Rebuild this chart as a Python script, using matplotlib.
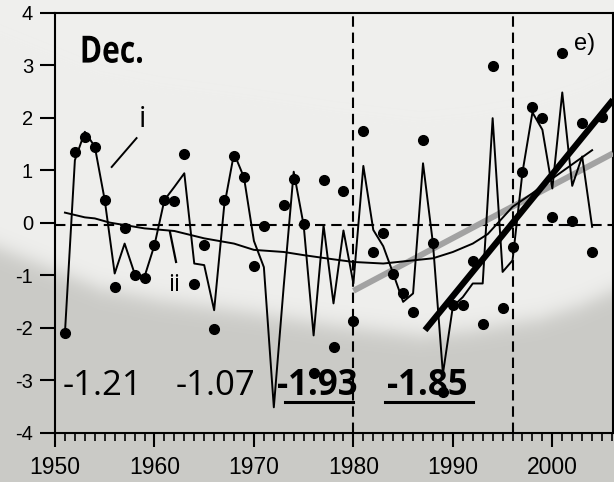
import numpy as np
import matplotlib
matplotlib.use("Agg")
import matplotlib.pyplot as plt
from matplotlib.ticker import MultipleLocator, FixedLocator
from matplotlib.patheffects import AbstractPathEffect
from matplotlib.transforms import Affine2D

plt.rcParams['axes.unicode_minus'] = False

# December anomalies (dots)
dot_years = [1951, 1952, 1953, 1954, 1955, 1956, 1957, 1958, 1959, 1960,
             1961, 1962, 1963, 1964, 1965, 1966, 1967, 1968, 1969, 1970,
             1971, 1973, 1974, 1975, 1976, 1977, 1978, 1979, 1980,
             1981, 1982, 1983, 1984, 1985, 1986, 1987, 1988, 1989, 1990,
             1991, 1992, 1993, 1994, 1995, 1996, 1997, 1998, 1999, 2000,
             2001, 2002, 2003, 2004, 2005]
dot_vals = [-2.11, 1.35, 1.63, 1.45, 0.43, -1.22, -0.11, -0.99, -1.05, -0.42,
            0.43, 0.41, 1.31, -1.17, -0.42, -2.02, 0.43, 1.27, 0.86, -0.82,
            -0.07, 0.33, 0.83, -0.03, -2.87, 0.82, -2.38, 0.61, -1.88,
            1.75, -0.56, -0.19, -0.97, -1.34, -1.70, 1.57, -0.39, -3.22, -1.57,
            -1.57, -0.73, -1.94, 2.99, -1.63, -0.46, 0.96, 2.20, 1.99, 0.11,
            3.23, 0.03, 1.89, -0.56, 2.02]

# series i (thin line)
line_years = list(range(1951, 2005))
line_vals = [-2.10, 1.19, 1.73, 1.45, 0.43, -0.97, -0.40, -0.97, -1.03, -0.43,
             0.43, 0.68, 0.94, -0.78, -0.81, -1.67, 0.30, 1.32, 0.86, -0.35,
             -0.85, -3.52, -1.20, 0.97, -0.05, -2.15, -0.05, -1.54, -0.15, -1.16,
             1.08, -0.14, -0.45, -0.97, -1.51, -1.35, 1.13, -0.40, -2.88, -1.60,
             -1.42, -1.16, -1.16, 1.99, -0.94, -0.72, 0.96, 2.10, 1.77, 0.65,
             2.48, 0.70, 1.26, -0.08]

# series ii (smoothed)
smooth_years = [1951, 1953, 1954, 1955.5, 1959, 1962, 1965, 1968, 1970, 1973,
                1975, 1978, 1980, 1983, 1988, 1990, 1992, 1993.5, 1996, 1998,
                2000, 2004]
smooth_vals = [0.19, 0.10, 0.08, 0.00, -0.11, -0.16, -0.30, -0.40, -0.52, -0.56,
               -0.62, -0.70, -0.75, -0.78, -0.68, -0.56, -0.40, -0.22, 0.30, 0.56,
               0.84, 1.38]

# linear trends
trend80_years = [1980, 2006.1]
trend80_vals = [-1.30, 1.32]
trend87_years = [1987.2, 2006.1]
trend87_vals = [-2.05, 2.34]

split_years = [1980, 1996]
baseline = -0.05

period_labels = ['-1.21', '-1.07', '-1.93', '-1.85']
period_x = [1950.8, 1962.1, 1972.3, 1983.4]
period_bold = [False, False, True, True]

x_ticks = [1950, 1960, 1970, 1980, 1990, 2000]
y_ticks = [-4, -3, -2, -1, 0, 1, 2, 3, 4]


class Condense(AbstractPathEffect):
    """Squeeze glyphs horizontally about the text origin."""

    def __init__(self, sx):
        super().__init__()
        self.sx = sx

    def draw_path(self, renderer, gc, tpath, affine, rgbFace=None):
        renderer.draw_path(gc, tpath, Affine2D().scale(self.sx, 1) + affine, rgbFace)


W, H = 614, 482
fig = plt.figure(figsize=(W / 100, H / 100), dpi=100)

# paper-like backdrop: light upper part, grey lower part
bg = fig.add_axes([0, 0, 1, 1], zorder=-10)
bg.set_axis_off()
cx = [0, 50, 100, 160, 250, 335, 420, 470, 540, 580, 614]
cy = [248, 268, 288, 300, 312, 325, 335, 330, 318, 305, 290]
xx = np.arange(W)
edge = np.interp(xx, cx, cy)
yy = np.arange(H)[:, None]
t = 1 / (1 + np.exp(-(yy - edge[None, :]) / 6.0))
light = np.array([239, 239, 237]) / 255
grey = np.array([202, 202, 198]) / 255
img = light[None, None, :] * (1 - t[..., None]) + grey[None, None, :] * t[..., None]
bg.imshow(img, extent=[0, 1, 0, 1], aspect='auto', transform=bg.transAxes)

l, r = 55 / W, 613 / W
b, tp = (H - 432.5) / H, (H - 12.7) / H
ax = fig.add_axes([l, b, r - l, tp - b])
ax.patch.set_alpha(0)

ax.set_xlim(1950, 2006.1)
ax.set_ylim(-4, 4)

dash = (0, (5, 2.8))
ax.axhline(baseline, color='black', lw=1.5, ls=dash, zorder=2)
for xv in split_years:
    ax.axvline(xv, color='black', lw=1.5, ls=dash, zorder=2)

ax.plot(trend80_years, trend80_vals, color='#a2a2a2', lw=4.3,
        solid_capstyle='butt', zorder=3)
ax.plot(smooth_years, smooth_vals, color='black', lw=1.4, zorder=4)
ax.plot(line_years, line_vals, color='black', lw=1.4, zorder=4)
ax.plot(trend87_years, trend87_vals, color='black', lw=4.5,
        solid_capstyle='butt', zorder=5)
ax.plot(dot_years, dot_vals, 'o', color='black', ms=7, zorder=6)

for s in ax.spines.values():
    s.set_linewidth(1.5)

ax.xaxis.set_major_locator(FixedLocator(x_ticks))
ax.xaxis.set_minor_locator(MultipleLocator(1))
ax.yaxis.set_major_locator(FixedLocator(y_ticks))
ax.tick_params(axis='x', which='major', length=10, width=1.5, pad=7,
               labelsize=16.5, direction='out')
ax.tick_params(axis='x', which='minor', length=5.8, width=1.2, direction='out')
ax.tick_params(axis='y', which='major', length=10.8, width=1.5, pad=5,
               labelsize=14.5, direction='out')
for lab in ax.get_xticklabels() + ax.get_yticklabels():
    lab.set_family(['Liberation Sans', 'DejaVu Sans'])

ax.text(1952.5, 3.24, 'Dec.', fontsize=27, fontweight='bold',
        family=['Open Sans', 'DejaVu Sans'], ha='left', va='center',
        path_effects=[Condense(0.8)])
ax.text(2003.2, 3.4, 'e)', fontsize=17, family=['Liberation Sans', 'DejaVu Sans'],
        ha='center', va='center')
ax.text(1958.75, 1.97, 'i', fontsize=21, family=['Open Sans', 'DejaVu Sans'],
        ha='center', va='center')
ax.plot([1955.7, 1958.2], [1.06, 1.61], color='black', lw=1.4)
ax.text(1961.96, -1.19, 'ii', fontsize=17, family=['Open Sans', 'DejaVu Sans'],
        ha='center', va='center')
ax.plot([1961.56, 1962.17], [-0.18, -0.75], color='black', lw=1.6)

for lab, xv, bold in zip(period_labels, period_x, period_bold):
    ax.text(xv, -3.11, lab, fontsize=25, fontweight='bold' if bold else 'normal',
            family=['Open Sans', 'DejaVu Sans'], ha='left', va='center', zorder=7)
ax.plot([1973.1, 1980.0], [-3.42, -3.42], color='black', lw=2.2, zorder=7)
ax.plot([1983.2, 1992.0], [-3.42, -3.42], color='black', lw=2.2, zorder=7)

fig.savefig('out.png', dpi=100)
